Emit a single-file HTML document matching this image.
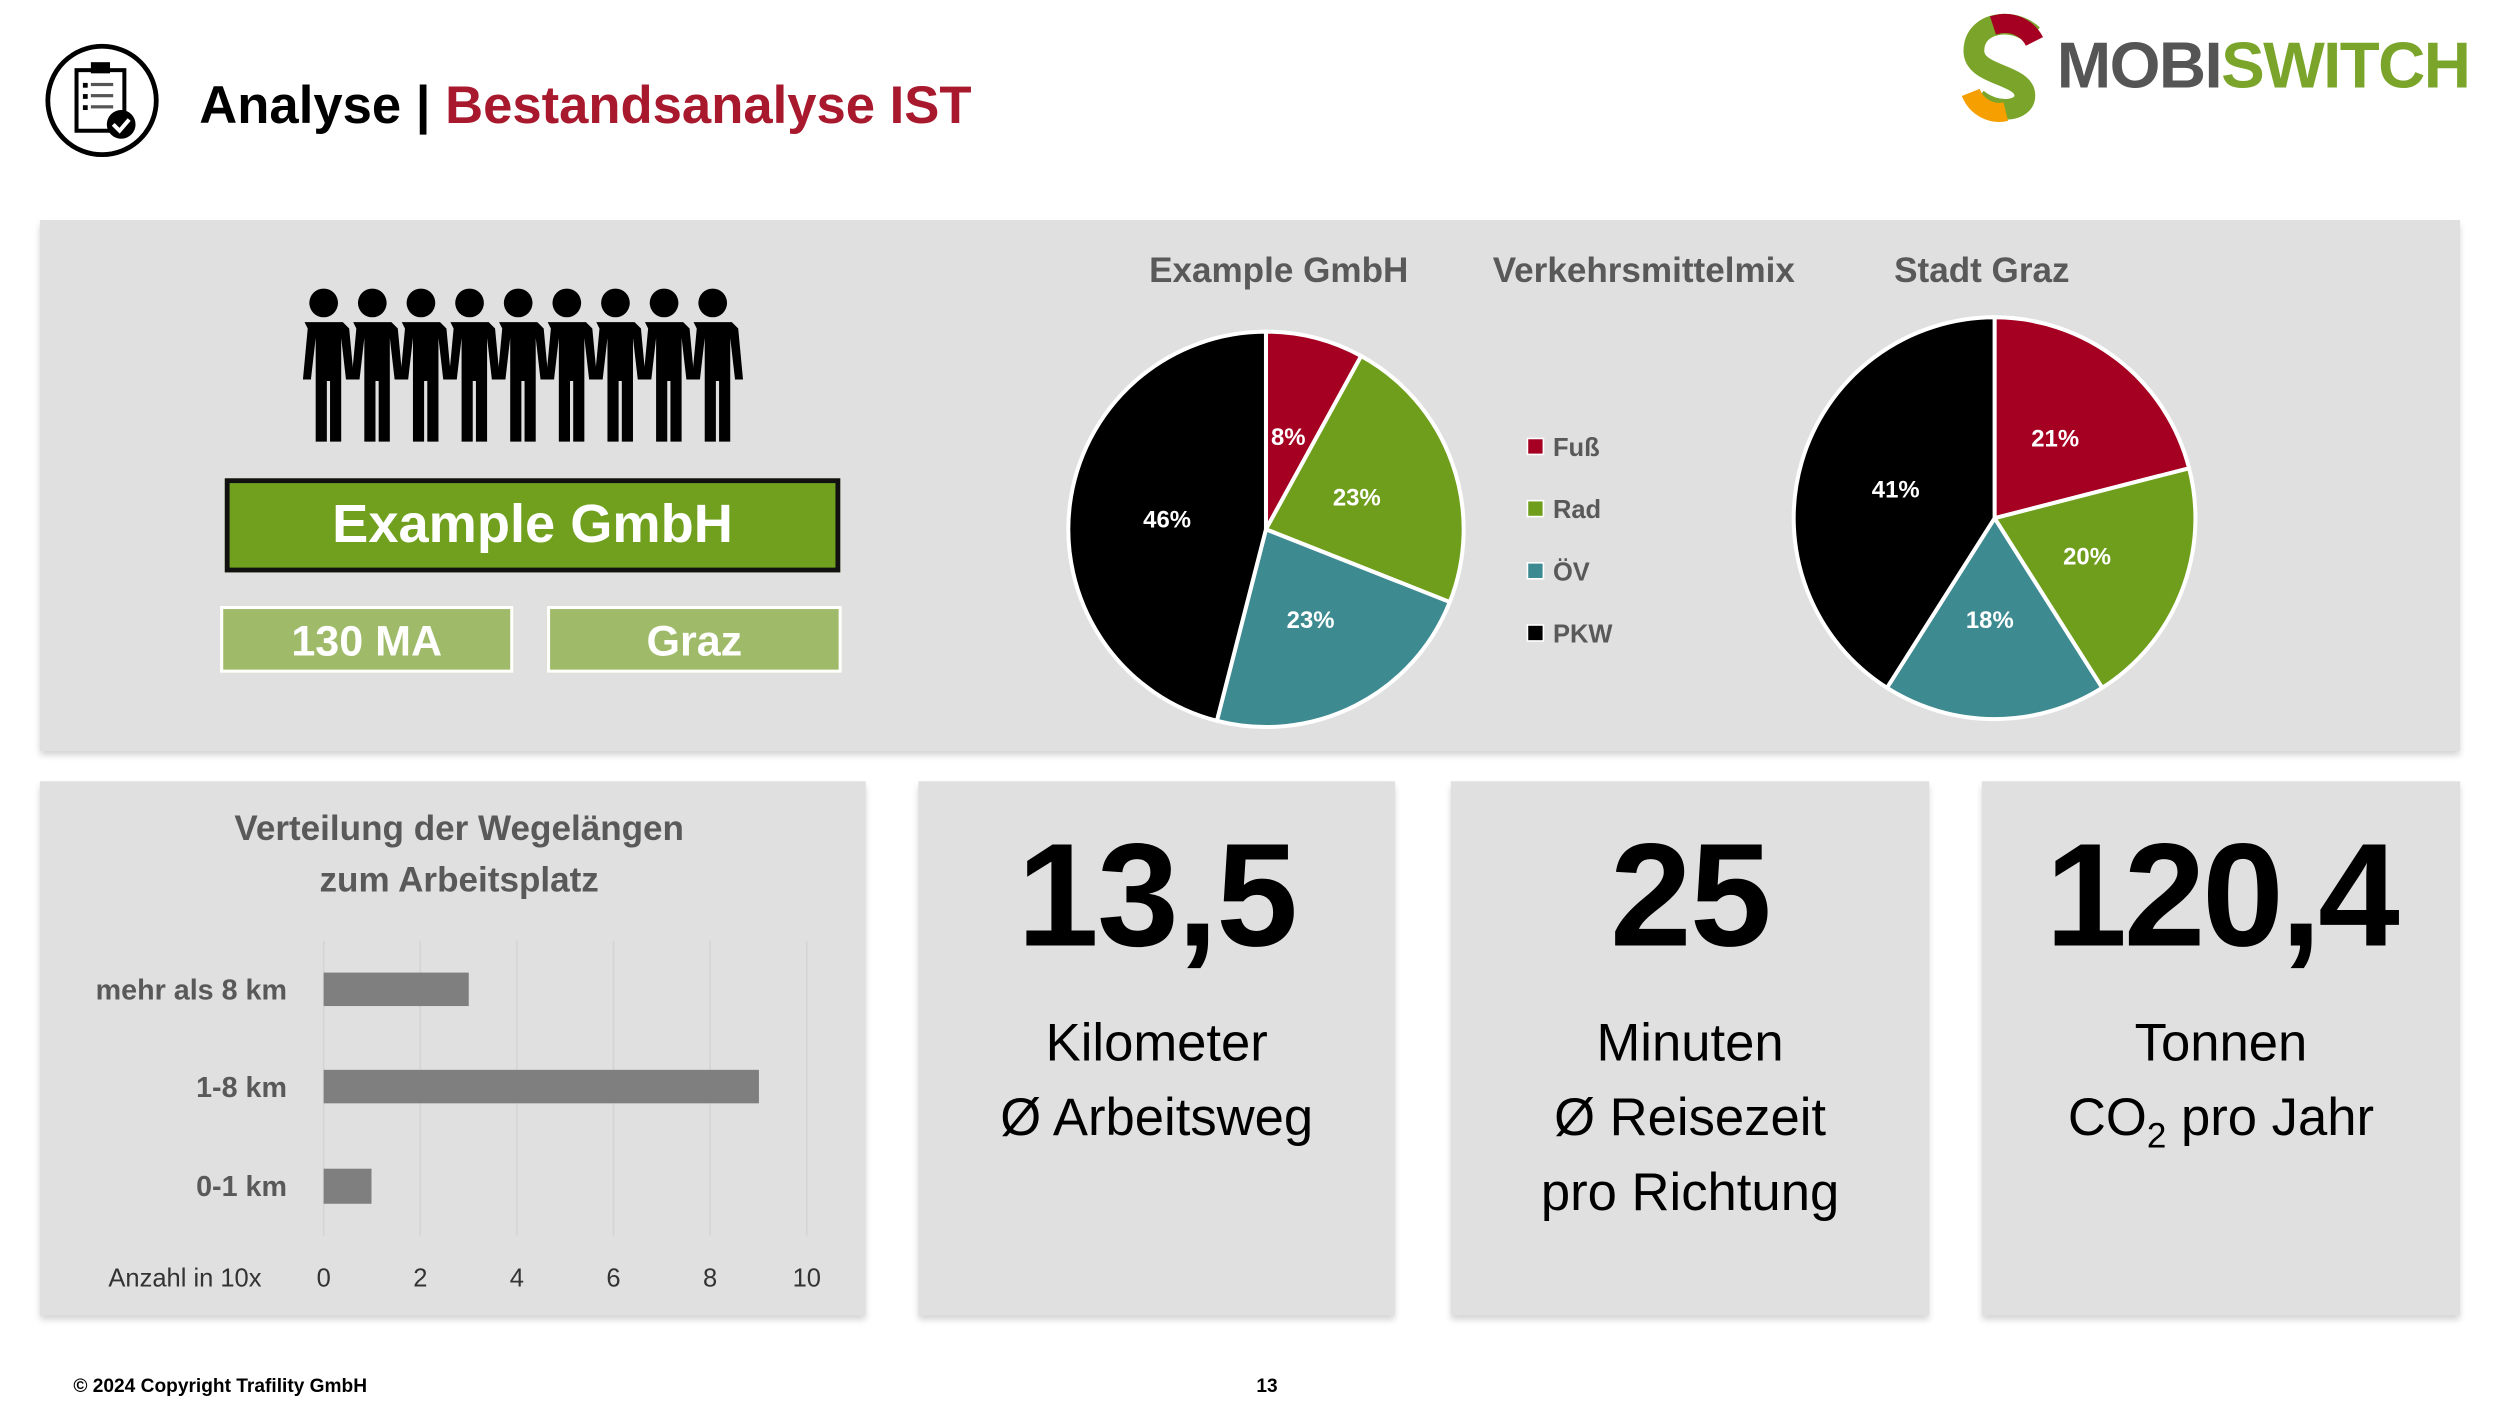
<!DOCTYPE html>
<html><head><meta charset="utf-8"><style>
html,body{margin:0;padding:0;background:#fff;width:2500px;height:1406px;overflow:hidden}
#s{position:absolute;left:0;top:0;width:1568px;height:882px;transform:scale(1.5944);transform-origin:0 0;font-family:"Liberation Sans",sans-serif}
.p{position:absolute;background:#e0e0e0;box-shadow:0 3px 4px rgba(0,0,0,.18)}
.t{position:absolute;white-space:nowrap}
.c{text-align:center}
</style></head><body><div id="s">
<svg style="position:absolute;left:0;top:0" width="1568" height="882">
<ellipse cx="64" cy="63" rx="34" ry="34" fill="none" stroke="#000" stroke-width="3"/>
<rect x="48" y="44" width="30" height="38" fill="none" stroke="#000" stroke-width="2.5"/>
<rect x="57" y="39" width="12" height="7" fill="#000"/>
<rect x="52" y="52" width="3" height="3" fill="#000"/><rect x="57" y="52" width="14" height="2" fill="#555"/>
<rect x="52" y="59" width="3" height="3" fill="#000"/><rect x="57" y="59" width="14" height="2" fill="#555"/>
<rect x="52" y="66" width="3" height="3" fill="#000"/><rect x="57" y="66" width="14" height="2" fill="#555"/>
<circle cx="76" cy="78" r="9" fill="#000"/><path d="M71 78l4 4 6-7" stroke="#fff" stroke-width="2.5" fill="none"/>
<path d="M1275 22 C1262 10 1238 14 1238 32 C1238 48 1270 46 1270 60 C1270 70 1252 72 1240 62" stroke="#7aa52a" stroke-width="13" fill="none"/>
<path d="M1250 16 C1262 12 1272 18 1276 26" stroke="#a50021" stroke-width="12" fill="none"/>
<path d="M1236 58 C1240 68 1250 72 1258 70" stroke="#f5a000" stroke-width="12" fill="none"/>
</svg>
<div class="t" style="left:1290px;top:18px;font-size:41px;font-weight:bold;letter-spacing:-1px"><span style="color:#555">MOBI</span><span style="color:#7aa52a">SWITCH</span></div>
<div class="t" style="left:125px;top:47px;font-size:33px;font-weight:bold"><span>Analyse</span> <span>|</span> <span style="color:#a8192e">Bestandsanalyse IST</span></div>

<div class="p" style="left:25px;top:138px;width:1518px;height:333px"></div>
<div class="p" style="left:25px;top:490px;width:518px;height:335px"></div>
<div class="p" style="left:576px;top:490px;width:299px;height:335px"></div>
<div class="p" style="left:910px;top:490px;width:300px;height:335px"></div>
<div class="p" style="left:1243px;top:490px;width:300px;height:335px"></div>

<svg style="position:absolute;left:0;top:0" width="1568" height="882">
<g fill="#000">
<g id="f"><circle cx="203" cy="190" r="9"/><path d="M191 202 h24 l4 4 3 32 h-5 l-3-26 v65 h-7 v-38 h-2 v38 h-7 v-65 l-3 26 h-5 l3-32z"/></g>
<use href="#f" x="30.5"/><use href="#f" x="61"/><use href="#f" x="91.5"/><use href="#f" x="122"/><use href="#f" x="152.5"/><use href="#f" x="183"/><use href="#f" x="213.5"/><use href="#f" x="244"/>
</g>
<g stroke="#fff" stroke-width="2.5" stroke-linejoin="round">
<path d="M794 332 L794 208 A124 124 0 0 1 853.7 223.3Z" fill="#a50021"/>
<path d="M794 332 L853.7 223.3 A124 124 0 0 1 909.3 377.6Z" fill="#6f9e1c"/>
<path d="M794 332 L909.3 377.6 A124 124 0 0 1 763.2 452.1Z" fill="#3d8a91"/>
<path d="M794 332 L763.2 452.1 A124 124 0 0 1 794 208Z" fill="#000"/>
<path d="M1251 325 L1251 199 A126 126 0 0 1 1373 293.7Z" fill="#a50021"/>
<path d="M1251 325 L1373 293.7 A126 126 0 0 1 1318.5 431.4Z" fill="#6f9e1c"/>
<path d="M1251 325 L1318.5 431.4 A126 126 0 0 1 1183.5 431.4Z" fill="#3d8a91"/>
<path d="M1251 325 L1183.5 431.4 A126 126 0 0 1 1251 199Z" fill="#000"/>
</g>
<g fill="#fff" font-size="15" font-weight="bold" text-anchor="middle" font-family="Liberation Sans">
<text x="808" y="279">8%</text><text x="851" y="317">23%</text><text x="822" y="394">23%</text><text x="732" y="331">46%</text>
<text x="1289" y="280">21%</text><text x="1309" y="354">20%</text><text x="1248" y="394">18%</text><text x="1189" y="312">41%</text>
</g>
<g stroke="#fff" stroke-width="1">
<rect x="958" y="275" width="10" height="10" fill="#a50021"/>
<rect x="958" y="314" width="10" height="10" fill="#6f9e1c"/>
<rect x="958" y="353" width="10" height="10" fill="#3d8a91"/>
<rect x="958" y="392" width="10" height="10" fill="#000"/>
</g>
<g fill="#595959" font-size="16" font-weight="bold" font-family="Liberation Sans">
<text x="974" y="286">Fuß</text><text x="974" y="325">Rad</text><text x="974" y="364">ÖV</text><text x="974" y="403">PKW</text>
</g>
<g stroke="#d4d4d4" stroke-width="1">
<line x1="203" y1="590" x2="203" y2="775"/><line x1="263.6" y1="590" x2="263.6" y2="775"/><line x1="324.2" y1="590" x2="324.2" y2="775"/><line x1="384.8" y1="590" x2="384.8" y2="775"/><line x1="445.4" y1="590" x2="445.4" y2="775"/><line x1="506" y1="590" x2="506" y2="775"/>
</g>
<g fill="#7f7f7f">
<rect x="203" y="610" width="91" height="21"/><rect x="203" y="671" width="273" height="21"/><rect x="203" y="733" width="30" height="22"/>
</g>
<g fill="#595959" font-size="18" font-weight="bold" text-anchor="end" font-family="Liberation Sans">
<text x="180" y="627">mehr als 8 km</text><text x="180" y="688">1-8 km</text><text x="180" y="750">0-1 km</text>
</g>
<g fill="#333" font-size="16" text-anchor="middle" font-family="Liberation Sans">
<text x="116" y="807">Anzahl in 10x</text><text x="203" y="807">0</text><text x="263.6" y="807">2</text><text x="324.2" y="807">4</text><text x="384.8" y="807">6</text><text x="445.4" y="807">8</text><text x="506" y="807">10</text>
</g>
</svg>

<div class="t c" style="left:141px;top:300px;width:380px;height:53px;background:#70a01e;border:3px solid #111;color:#fff;font-size:34px;font-weight:bold;line-height:53px">Example GmbH</div>
<div class="t c" style="left:138px;top:380px;width:180px;height:38px;background:#9fbb6a;border:2px solid #fff;color:#fff;font-size:27px;font-weight:bold;line-height:40px">130 MA</div>
<div class="t c" style="left:343px;top:380px;width:181px;height:38px;background:#9fbb6a;border:2px solid #fff;color:#fff;font-size:27px;font-weight:bold;line-height:40px">Graz</div>

<div class="t c" style="left:702px;top:157px;width:200px;font-size:22px;font-weight:bold;color:#595959">Example GmbH</div>
<div class="t c" style="left:911px;top:157px;width:240px;font-size:22px;font-weight:bold;color:#595959">Verkehrsmittelmix</div>
<div class="t c" style="left:1143px;top:157px;width:200px;font-size:22px;font-weight:bold;color:#595959">Stadt Graz</div>

<div class="t c" style="left:88px;top:504px;width:400px;font-size:22px;font-weight:bold;color:#595959;line-height:32px">Verteilung der Wegelängen<br>zum Arbeitsplatz</div>

<div class="t c" style="left:576px;top:510px;width:299px;font-size:92px;font-weight:bold;letter-spacing:-1px">13,5</div>
<div class="t c" style="left:910px;top:510px;width:300px;font-size:92px;font-weight:bold;letter-spacing:-1px">25</div>
<div class="t c" style="left:1243px;top:510px;width:300px;font-size:92px;font-weight:bold;letter-spacing:-2px">120,4</div>
<div class="t c" style="left:576px;top:630px;width:299px;font-size:33px;line-height:47px">Kilometer<br>Ø Arbeitsweg</div>
<div class="t c" style="left:910px;top:630px;width:300px;font-size:33px;line-height:47px">Minuten<br>Ø Reisezeit<br>pro Richtung</div>
<div class="t c" style="left:1243px;top:630px;width:300px;font-size:33px;line-height:47px">Tonnen<br>CO<sub style="font-size:22px;line-height:0">2</sub> pro Jahr</div>

<div class="t" style="left:46px;top:862px;font-size:12px;font-weight:bold">© 2024 Copyright Trafility GmbH</div>
<div class="t" style="left:788px;top:862px;font-size:12px;font-weight:bold">13</div>
</div></body></html>
